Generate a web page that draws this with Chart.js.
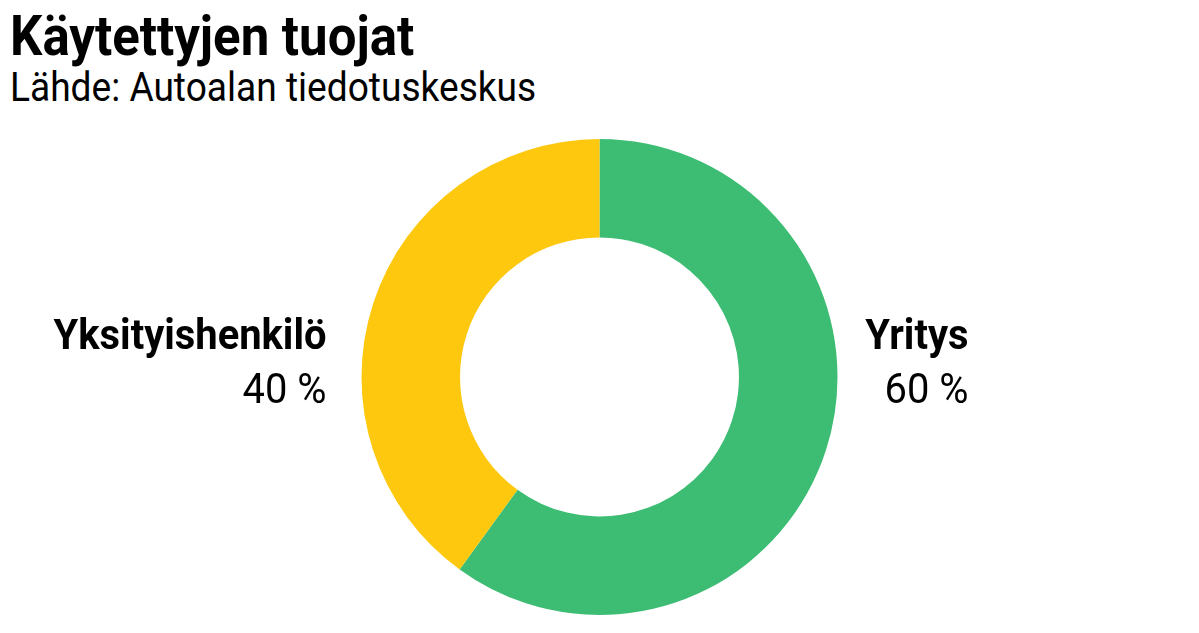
<!DOCTYPE html>
<html>
<head>
<meta charset="utf-8">
<script src="https://cdn.jsdelivr.net/npm/chart.js@4/dist/chart.umd.min.js"></script>
<style>
html,body{margin:0;padding:0;background:#fff;}
body{width:1199px;height:633px;position:relative;overflow:hidden;font-family:Roboto,sans-serif;}
.t{position:absolute;left:10px;white-space:nowrap;transform-origin:0 0;color:#000;}
#title{top:8px;font-size:56px;font-weight:700;line-height:56px;transform:scaleX(0.91);}
#sub{top:67px;font-size:41px;font-weight:400;line-height:41px;transform:scaleX(0.905);}
#wrap{position:absolute;left:0;top:0;width:1199px;height:633px;}
</style>
</head>
<body>
<div id="title" class="t">Käytettyjen tuojat</div>
<div id="sub" class="t">Lähde: Autoalan tiedotuskeskus</div>
<div id="wrap"><canvas id="c"></canvas></div>
<script>
const categories=["Yritys","Yksityishenkilö"]
const shares=[60,40]
const colors=["#3cbd73","#fdc80d"]

const squeeze=0.95

const sliceLabels={
id:"sliceLabels",
afterDraw(chart){
const ctx=chart.ctx
const meta=chart.getDatasetMeta(0)
meta.data.forEach((arc,i)=>{
const mid=(arc.startAngle+arc.endAngle)/2
const right=Math.cos(mid)>0
const x=right?arc.x+arc.outerRadius+131:arc.x-arc.outerRadius-35
const y=arc.y
const draw=(txt,weight,dy)=>{
ctx.save()
ctx.translate(x,y+dy)
ctx.scale(squeeze,1)
ctx.font=weight+" 42px Roboto"
ctx.fillStyle="#000"
ctx.textAlign="right"
ctx.textBaseline="alphabetic"
ctx.fillText(txt,0,0)
ctx.restore()
}
draw(categories[i],"700",-28)
draw(shares[i]+" %","400",26)
})
}
}

new Chart(document.getElementById("c"),{
type:"doughnut",
data:{labels:categories,datasets:[{data:shares,backgroundColor:colors,borderWidth:0,hoverOffset:0}]},
options:{
responsive:true,maintainAspectRatio:false,animation:false,
cutout:"58.6%",
layout:{padding:{top:139,bottom:18}},
plugins:{legend:{display:false},tooltip:{enabled:false}}
},
plugins:[sliceLabels]
})
</script>
</body>
</html>
